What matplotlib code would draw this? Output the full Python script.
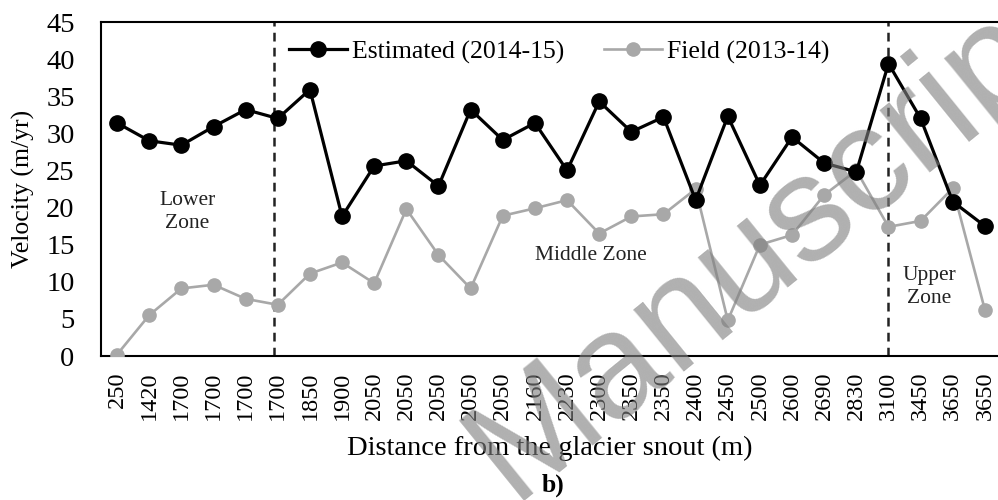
import numpy as np
import matplotlib
matplotlib.use("Agg")
import matplotlib.pyplot as plt

# Distance labels along the glacier profile (m)
distance = ['250', '1420', '1700', '1700', '1700', '1700', '1850', '1900',
            '2050', '2050', '2050', '2050', '2050', '2160', '2230', '2300',
            '2350', '2350', '2400', '2450', '2500', '2600', '2690', '2830',
            '3100', '3450', '3650', '3650']

# Surface velocity (m/yr)
estimated = [31.4, 29.0, 28.4, 30.9, 33.2, 32.0, 35.9, 18.8, 25.6, 26.3,
             22.9, 33.2, 29.1, 31.4, 25.0, 34.3, 30.2, 32.2, 21.0, 32.3,
             23.0, 29.5, 26.0, 24.8, 39.4, 32.0, 20.8, 17.5]
field = [0.2, 5.5, 9.1, 9.6, 7.7, 6.9, 11.1, 12.6, 9.8, 19.8,
         13.6, 9.1, 18.9, 19.9, 21.0, 16.5, 18.8, 19.1, 22.5, 4.8,
         15.0, 16.3, 21.7, 25.0, 17.4, 18.2, 22.6, 6.2]

# zone boundaries (index positions on the category axis)
zone_breaks = [4.88, 24.0]

plt.rcParams['font.family'] = ['Liberation Serif', 'DejaVu Serif']

fig = plt.figure(figsize=(9.98, 5.0), dpi=100)
ax = fig.add_axes([101 / 998, 144 / 500, 900 / 998, 334 / 500])

x = np.arange(len(distance))
ax.plot(x, estimated, color='black', lw=2.3, marker='o', markersize=11,
        label='Estimated (2014-15)', zorder=4)
ax.plot(x, field, color='#a8a8a8', lw=1.9, marker='o', markersize=9.5,
        label='Field (2013-14)', zorder=3)

for xb in zone_breaks:
    ax.axvline(xb, color='#222222', lw=1.8, ls=(0, (3.5, 2.5)), zorder=2)

ax.set_xlim(-0.5, len(distance) - 0.5)
ax.set_ylim(0, 45)
ax.set_yticks(range(0, 50, 5))
ax.set_xticks(x)
ax.set_xticklabels(distance, rotation=90, fontsize=17.5)
ax.tick_params(axis='y', length=0, pad=19, labelsize=20.5)
ax.tick_params(axis='x', length=0, pad=11)
for s in ax.spines.values():
    s.set_linewidth(1.5)

ax.set_ylabel('Velocity (m/yr)', fontsize=18.5)
ax.yaxis.set_label_coords(-66 / 900, 0.5)
fig.text(550 / 998, 1 - 448 / 500, 'Distance from the glacier snout (m)',
         ha='center', va='center', fontsize=20.5)
fig.text(553 / 998, 1 - 485 / 500, 'b)', ha='center', va='center',
         fontsize=18.5, fontweight='bold')

ax.text(2.18, 19.4, 'Lower\nZone', ha='center', va='center', fontsize=15.5,
        color='#222222', linespacing=1.25)
ax.text(14.75, 13.6, 'Middle Zone', ha='center', va='center', fontsize=15.5,
        color='#222222')
ax.text(25.26, 9.3, 'Upper\nZone', ha='center', va='center', fontsize=15.5,
        color='#222222', linespacing=1.25)

ax.legend(loc='center left', bbox_to_anchor=(289 / 998, 1 - 52 / 500),
          bbox_transform=fig.transFigure, ncol=2, frameon=False,
          fontsize=18.5, handlelength=2.26, handletextpad=0.2,
          columnspacing=1.55, borderpad=0, borderaxespad=0)

# diagonal watermark
fig.text(773 / 998, 1 - 240 / 500, 'Manuscript', ha='center', va='center',
         rotation=39, fontsize=108, family='Liberation Sans',
         color=(0.5, 0.5, 0.5), alpha=0.62, zorder=10)

fig.savefig('out.png', dpi=100)
